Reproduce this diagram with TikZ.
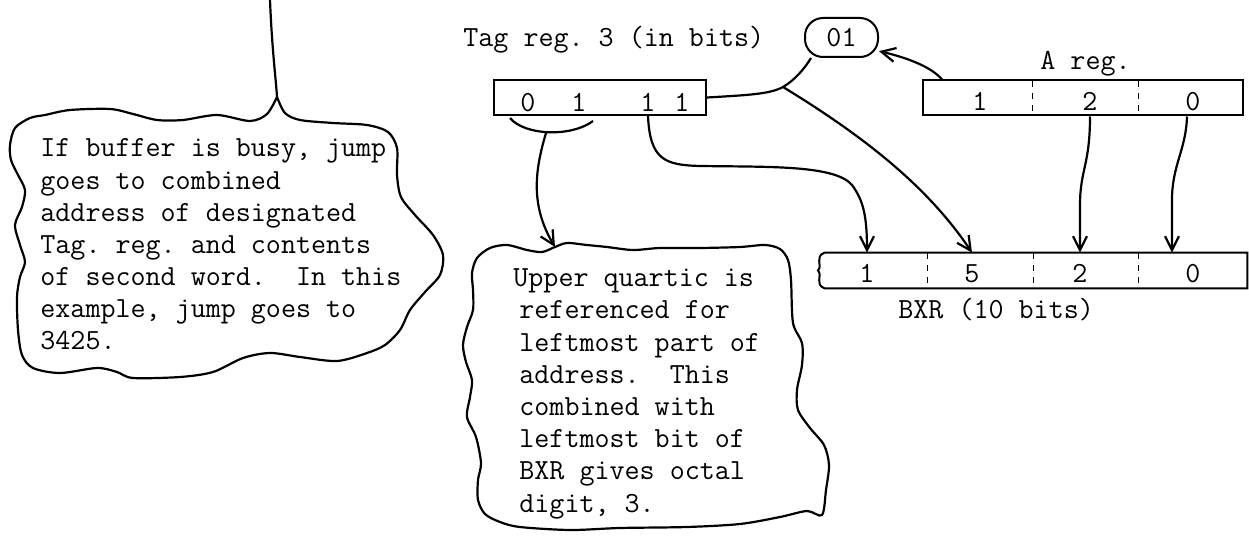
\documentclass[tikz,border=0pt]{standalone}
\usepackage{fontspec}
\usetikzlibrary{arrows.meta}
\tikzset{
  reg/.style={draw, line width=1pt, minimum height=17.5pt, inner sep=0pt},
  bit/.style={anchor=base, inner sep=0pt},
  link/.style={line width=1.1pt},
  arr/.style={link, -{Straight Barb[length=7pt,width=7pt]}},
  note/.style={anchor=base west, align=left, inner sep=0pt}
}
\begin{document}
\begin{tikzpicture}[x=0.5pt,y=-0.5pt]
    \useasboundingbox (0,0) rectangle (1249,540);
    \begin{scope}[font=\fontsize{14.6}{16.1}\selectfont\ttfamily\frenchspacing]

    \node[reg, minimum width=106pt] (tag) at (600,97.5) {};
    \node[reg, minimum width=160pt] (areg) at (1083,98) {};
    \node[minimum width=211pt, minimum height=17.5pt, inner sep=0pt] (bxr) at (1036,270.5) {};
    \node[draw, line width=1pt, rounded corners=9pt, minimum width=36.5pt, minimum height=19.5pt, inner sep=0pt] (oval) at (841.5,37.5) {01};

    \draw[line width=1pt] (bxr.north west) -- (bxr.north east) -- (bxr.south east) -- (bxr.south west)
        .. controls (814,284) and (823,276) .. (818,270.5) .. controls (823,265) and (814,257) .. (bxr.north west);

    \draw [dashed] (1032,81) -- (1032,115);
    \draw [dashed] (1138,81) -- (1138,115);
    \draw [dashed] (927,253) -- (927,288);
    \draw [dashed] (1033,253) -- (1033,288);
    \draw [dashed] (1138,253) -- (1138,288);

    \node[note] (taglabel) at (463,47) {Tag reg. 3 (in bits)};
    \node[note] (alabel) at (1040,70) {A reg.};
    \node[note] (bxrlabel) at (898,318) {BXR (10 bits)};

    \node[bit] (ta) at (528,112) {0};
    \node[bit] (tb) at (579,112) {1};
    \node[bit] (tc) at (648,112) {1};
    \node[bit] (td) at (682,112) {1};
    \node[bit] (a1) at (980,111) {1};
    \node[bit] (a2) at (1090,111) {2};
    \node[bit] (a3) at (1193,111) {0};
    \node[bit] (b1) at (867,283) {1};
    \node[bit] (b2) at (972,283) {5};
    \node[bit] (b3) at (1080,283) {2};
    \node[bit] (b4) at (1193,283) {0};

    \coordinate (stemtop) at (270,0);
    \coordinate (cusp) at (277,97);
    \coordinate (quart) at (555,247);
    \coordinate (fork) at (783,87);
    \coordinate (bracel) at (510,118);
    \coordinate (bracer) at (593,121);
    \coordinate (bracemid) at (546,133);

    \draw[link] (stemtop) .. controls (272,50) and (276,80) .. (cusp);
    \draw[link] plot[smooth] coordinates {(cusp) (285,113) (300,120) (333,123) (367,125) (388,132) (397,148)
        (397,175) (401,197) (415,215) (433,235) (443,255) (440,275) (425,292) (410,310) (400,330)
        (385,345) (367,353) (337,361) (300,357) (270,353) (243,358) (213,372) (180,377) (133,378)
        (117,372) (97,368) (60,373) (33,368) (22,355) (18,330) (17,297) (20,277) (25,262) (20,245)
        (15,225) (22,207) (25,190) (18,175) (11,160) (10,145) (15,128) (30,118) (45,115) (70,110)
        (110,109) (133,114) (157,120) (183,120) (217,115) (250,121) (267,114) (cusp)};
    \draw[link] plot[smooth cycle] coordinates {(quart) (567,243) (587,245) (607,247) (633,250) (660,248)
        (700,248) (740,247) (765,245) (780,249) (788,260) (791,280) (793,323) (802,343) (802,365)
        (797,390) (798,410) (810,428) (824,445) (829,465) (826,490) (822,515) (807,511) (780,517)
        (740,524) (687,527) (620,528) (570,530) (520,527) (500,522) (485,514) (478,500) (478,480)
        (481,463) (476,437) (467,417) (470,397) (472,380) (466,362) (463,345) (467,327) (473,310)
        (473,290) (472,273) (477,258) (490,248) (507,245) (527,250) (542,252)};

    % last baselines: the note anchor sits on the bottom line
    \node[note] (busy) at (40,350) {If buffer is busy, jump\\goes to combined\\address of designated\\Tag. reg. and contents\\of second word.~ In this\\example, jump goes to\\3425.};
    \node[note] (quartic) at (519,512) {\hspace*{-3pt}Upper quartic is\\referenced for\\leftmost part of\\address.~ This\\combined with\\leftmost bit of\\BXR gives octal\\digit, 3.};

    \draw[link] (bracel) .. controls (525,136) and (572,137) .. (bracer);
    \draw[arr] (bracemid) .. controls (535,170) and (530,205) .. (quart);
    \draw[arr] (tc |- tag.south) .. controls (650,160) and (665,165) .. (700,166)
        .. controls (770,167) and (835,165) .. (852,185) .. controls (863,200) and (867,215) .. (b1 |- bxr.north);
    \draw[link] (tag.east) .. controls (750,95) and (770,94) .. (fork)
        .. controls (795,80) and (805,68) .. ([xshift=3.5pt]oval.south west);
    \draw[arr] (fork) .. controls (870,140) and (930,190) .. (b2 |- bxr.north);
    \draw[arr] (942,81 |- areg.north) .. controls (930,65) and (900,56) .. (oval.-20);
    \draw[arr] (a2 |- areg.south) .. controls (1090,165) and (1080,170) .. (1080,205) -- (b3 |- bxr.north);
    \draw[arr] (1187,0 |- areg.south) .. controls (1186,150) and (1172,165) .. (1172,200) -- (1172,0 |- bxr.north);

    \end{scope}
\end{tikzpicture}
\end{document}
